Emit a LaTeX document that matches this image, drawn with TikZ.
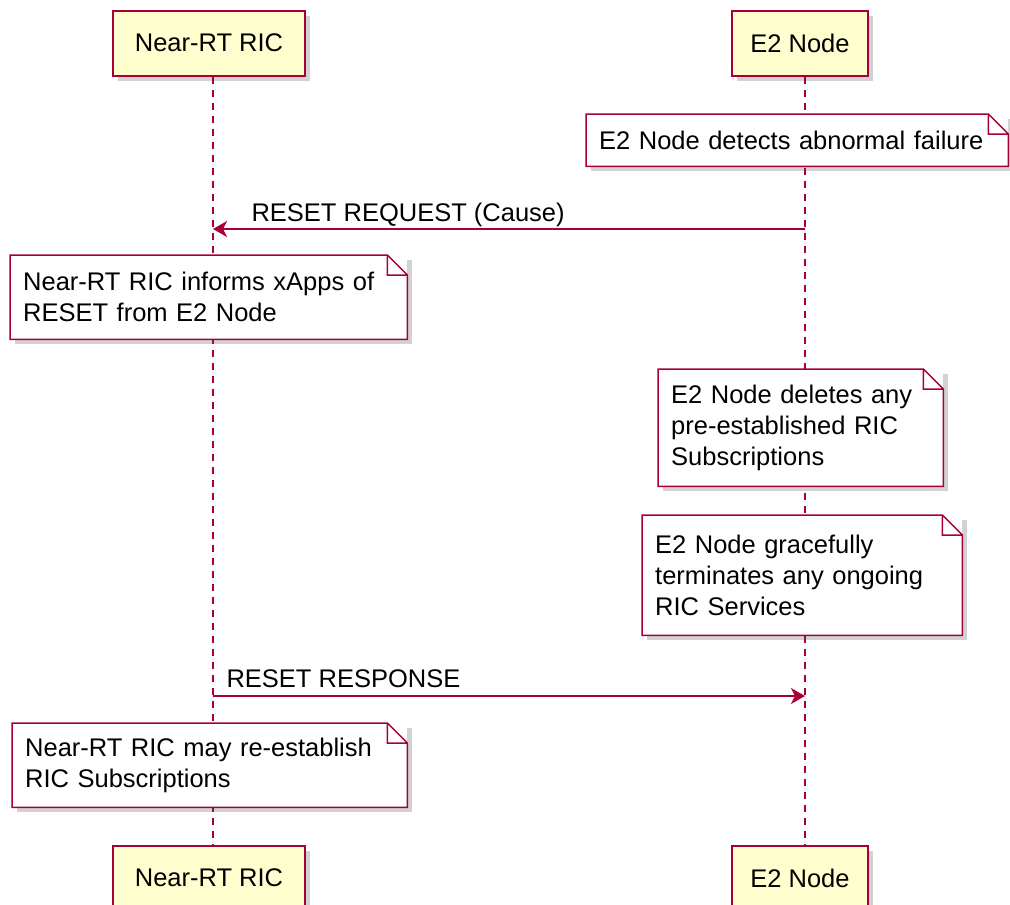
\documentclass[tikz,border=0pt]{standalone}
\usepackage{fontspec}
\setmainfont{Liberation Sans}
\usetikzlibrary{arrows.meta}
\usetikzlibrary{calc}
\usetikzlibrary{shadows}

\definecolor{umlred}{HTML}{A80036}
\definecolor{umlbox}{HTML}{FEFECE}

\tikzset{
	umlshadow/.style={drop shadow={shadow xshift=5pt, shadow yshift=-5pt, opacity=0.25, fill=black!70}},
	actor/.style={draw=umlred, fill=umlbox, line width=2pt, inner sep=0pt, minimum height=65pt, umlshadow},
	note/.style={fill=white, anchor=north west, align=left, inner xsep=13pt, inner ysep=0pt, umlshadow},
	noteline/.style={draw=umlred, line width=1.5pt, line join=miter},
	lifeline/.style={umlred, line width=1.3pt, dash pattern=on 7pt off 6pt},
	msg/.style={umlred, line width=1.5pt, -{Stealth[length=14pt, width=16pt, inset=4pt]}},
}

\begin{document}
\begin{tikzpicture}[x=1pt, y=-1pt, font=\fontsize{25.5}{31}\selectfont]
		\useasboundingbox (0,0) rectangle (1010,905);

		% participants, top and bottom
		\node[actor, minimum width=192pt] (rictop) at (209,43) {Near-RT RIC};
		\node[actor, minimum width=136pt] (e2top) at (800,43) {E2 Node};
		\node[actor, minimum width=192pt] (ricbot) at (209,878) {Near-RT RIC};
		\node[actor, minimum width=136pt] (e2bot) at (800,878) {E2 Node};

		% lifelines
		\coordinate (ricx) at ([xshift=4pt]rictop.south);
		\coordinate (e2x) at ([xshift=5pt]e2top.south);
		\draw[lifeline] (ricx) -- (ricx |- ricbot.north);
		\draw[lifeline] (e2x) -- (e2x |- e2bot.north);

		% notes
		\node[note, text width=396pt, minimum height=52pt] (n1) at (586,114) {E2 Node detects abnormal failure};
		\node[note, text width=371pt, minimum height=84pt] (n2) at (10,255) {Near-RT RIC informs xApps of\\RESET from E2 Node};
		\node[note, text width=259pt, minimum height=117pt] (n3) at (658,369) {E2 Node deletes any\\pre-established RIC\\Subscriptions};
		\node[note, text width=294pt, minimum height=120pt] (n4) at (642,515) {E2 Node gracefully\\terminates any ongoing\\RIC Services};
		\node[note, text width=369pt, minimum height=84pt] (n5) at (12,723) {Near-RT RIC may re-establish\\RIC Subscriptions};
		\foreach \n in {n1,n2,n3,n4,n5}
			\draw[noteline] (\n.north west) -- ($(\n.north east)+(-20,0)$) -- ($(\n.north east)+(0,20)$) -- (\n.south east) -- (\n.south west) -- cycle
				($(\n.north east)+(-20,0)$) -- ($(\n.north east)+(-20,20)$) -- ($(\n.north east)+(0,20)$);

		% messages
		\coordinate (req-e2) at (e2x |- 0,229);
		\coordinate (req-ric) at (ricx |- 0,229);
		\draw[msg] (req-e2) -- (req-ric);
		\node[anchor=base west] (reqlbl) at (248,221) {RESET REQUEST (Cause)};

		\coordinate (resp-ric) at (ricx |- 0,696);
		\coordinate (resp-e2) at (e2x |- 0,696);
		\draw[msg] (resp-ric) -- (resp-e2);
		\node[anchor=base west] (resplbl) at (223,687) {RESET RESPONSE};
	\end{tikzpicture}
\end{document}
